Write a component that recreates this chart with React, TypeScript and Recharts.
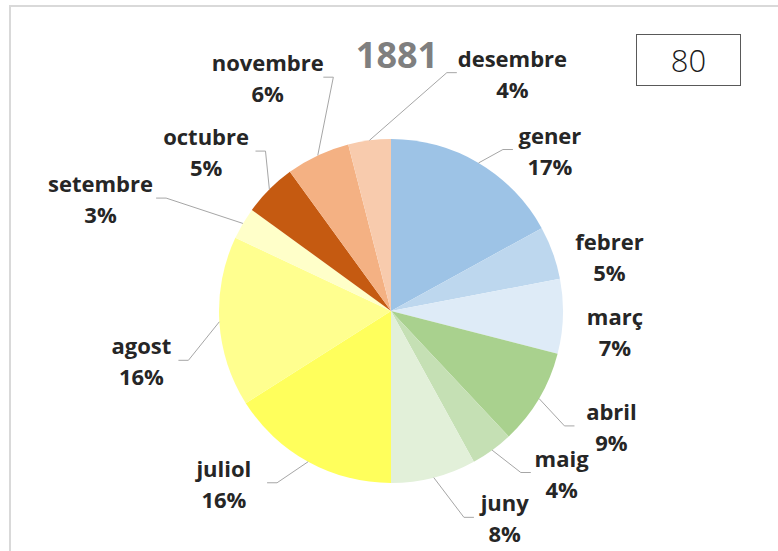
import React from "react";
import { PieChart, Pie, Cell } from "recharts";

// months of 1881, share of the year in %
const months = [
  "gener", "febrer", "març", "abril", "maig", "juny",
  "juliol", "agost", "setembre", "octubre", "novembre", "desembre",
];
const shares = [17, 5, 7, 9, 4, 8, 16, 16, 3, 5, 6, 4];

const COLORS = [
  "#9DC3E6", "#BDD7EE", "#DEEBF7",
  "#A9D18E", "#C5E0B4", "#E2F0D9",
  "#FFFF5C", "#FFFF8F", "#FFFFC9",
  "#C55A11", "#F4B183", "#F8CBAD",
];

// label nudges (px) from the default radial spot, Excel "best fit" style
const LABEL_NUDGE: [number, number][] = [
  [51, 21], [19, 17], [12, 13], [38, 7], [46, -10], [61, 1],
  [-65, -14], [-38, 36], [-108, -5], [-35, -10], [-33, -42], [148, -28],
];

const data = months.map((m, i) => ({ name: m, value: shares[i] }));

const RAD = Math.PI / 180;
const FONT = '"Open Sans", "DejaVu Sans", sans-serif';

function renderLabel(props: any) {
  const { cx, cy, midAngle, outerRadius, index, value } = props;
  const name = props.payload?.name ?? props.name;
  const cos = Math.cos(-midAngle * RAD);
  const sin = Math.sin(-midAngle * RAD);
  const [dx, dy] = LABEL_NUDGE[index];
  const lx = cx + (outerRadius + 40) * cos + dx;
  const ly = cy + (outerRadius + 40) * sin + dy;
  const ox = cx + outerRadius * cos;
  const oy = cy + outerRadius * sin;
  const half = Math.max(name.length, String(value).length + 1) * 6.2 + 6;
  const right = lx > ox;
  const ex = right ? lx - half : lx + half;
  const hx = right ? ex - 10 : ex + 10;
  const showLine = Math.hypot(ex - ox, ly - oy) > 30;
  return (
    <g key={`lbl-${index}`}>
      {showLine && (
        <polyline
          points={`${ox},${oy} ${hx},${ly} ${ex},${ly}`}
          fill="none"
          stroke="#a6a6a6"
          strokeWidth={1}
        />
      )}
      <text
        x={lx}
        y={ly - 15}
        textAnchor="middle"
        dominantBaseline="central"
        fontFamily={FONT}
        fontWeight={700}
        fontSize={22}
        fill="#262626"
      >
        {name}
      </text>
      <text
        x={lx}
        y={ly + 16}
        textAnchor="middle"
        dominantBaseline="central"
        fontFamily={FONT}
        fontWeight={700}
        fontSize={22}
        fill="#262626"
      >
        {`${value}%`}
      </text>
    </g>
  );
}

export default function App() {
  return (
    <div
      style={{
        position: "absolute",
        left: 0,
        top: 0,
        width: 778,
        height: 551,
        overflow: "hidden",
        background: "#fff",
      }}
    >
      <div
        style={{
          position: "absolute",
          left: 9,
          top: 5,
          width: 800,
          height: 600,
          borderTop: "2px solid #d9d9d9",
          borderLeft: "2px solid #d9d9d9",
        }}
      />
      <PieChart
        width={778}
        height={551}
        margin={{ top: 0, right: 0, bottom: 0, left: 0 }}
      >
        <Pie
          data={data}
          dataKey="value"
          nameKey="name"
          cx={391}
          cy={311}
          outerRadius={172}
          startAngle={90}
          endAngle={-270}
          stroke="none"
          label={renderLabel}
          labelLine={false}
          isAnimationActive={false}
        >
          {data.map((entry, index) => (
            <Cell key={`cell-${index}`} fill={COLORS[index % COLORS.length]} />
          ))}
        </Pie>
      </PieChart>
      <div
        style={{
          position: "absolute",
          left: 337,
          top: 32,
          width: 120,
          textAlign: "center",
          fontFamily: FONT,
          fontWeight: 700,
          fontSize: 36,
          color: "#7f7f7f",
          lineHeight: "46px",
        }}
      >
        1881
      </div>
      <div
        style={{
          position: "absolute",
          left: 636,
          top: 34,
          width: 105,
          height: 52,
          border: "1px solid #595959",
          boxSizing: "border-box",
          display: "flex",
          alignItems: "center",
          justifyContent: "center",
          fontFamily: FONT,
          fontWeight: 300,
          fontSize: 31,
          color: "#1a1a1a",
        }}
      >
        80
      </div>
    </div>
  );
}
